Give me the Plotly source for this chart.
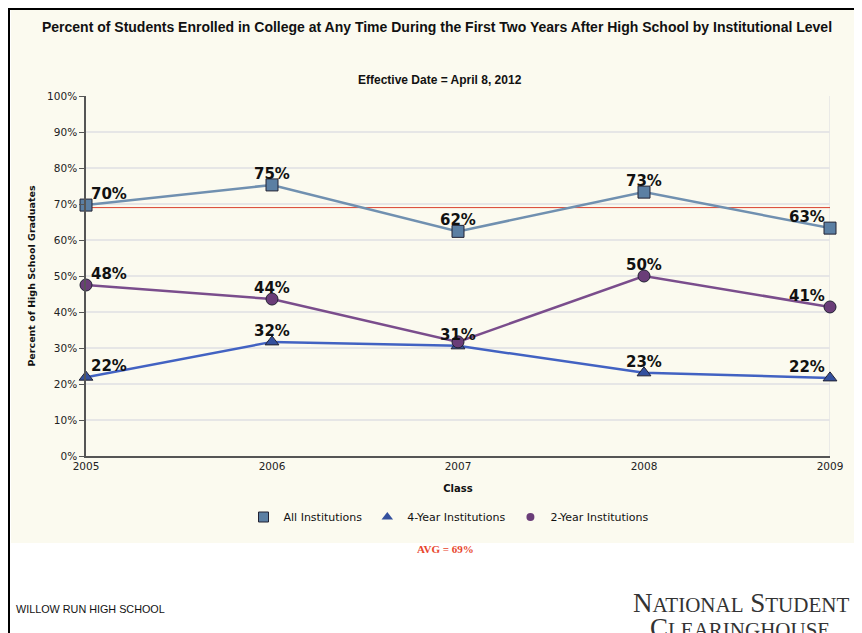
"""Enrollment by institutional level, Willow Run High School."""

import plotly.graph_objects as go

years = [2005, 2006, 2007, 2008, 2009]
all_inst = [69.7, 75.3, 62.4, 73.3, 63.3]
four_year = [21.9, 31.7, 30.6, 23.1, 21.7]
two_year = [47.5, 43.6, 31.7, 50.0, 41.4]
all_labels = ["70%", "75%", "62%", "73%", "63%"]
four_labels = ["22%", "32%", "31%", "23%", "22%"]
two_labels = ["48%", "44%", "", "50%", "41%"]
avg_value = 69

# the page body has an 8px margin, so work in shifted pixel coordinates
OFF = 8
W, H = 862 - OFF, 633 - OFF
L, R, T, B = 86 - OFF, 830 - OFF, 96 - OFF, 456 - OFF  # plot area in pixels


def px_x(p):
    return (p - OFF - L) / (R - L)


def px_y(p):
    return (B - (p - OFF)) / (B - T)


CREAM = "#FBFAEF"
label_font = dict(family="DejaVu Sans", size=15, color="#111111", weight="bold")

series = [
    ("All Institutions", all_inst, all_labels, "#7090B0", "square", "#5B7FA3"),
    ("4-Year Institutions", four_year, four_labels, "#4262C2", "triangle-up", "#34509E"),
    ("2-Year Institutions", two_year, two_labels, "#7A4D8C", "circle", "#6A3D78"),
]

fig = go.Figure()

fig.add_trace(
    go.Scatter(
        x=[years[0], years[-1]],
        y=[avg_value, avg_value],
        mode="lines",
        line=dict(color="#D9412E", width=1),
        showlegend=False,
        hoverinfo="skip",
    )
)

annotations = []
for name, vals, labels, line_c, sym, fill_c in series:
    fig.add_trace(
        go.Scatter(
            x=years,
            y=vals,
            mode="lines+markers",
            line=dict(color=line_c, width=2.5),
            marker=dict(symbol=sym, size=12, color=fill_c, line=dict(color="#222233", width=1)),
            cliponaxis=False,
            showlegend=False,
            name=name,
        )
    )
    for i, (yr, v, lab) in enumerate(zip(years, vals, labels)):
        if not lab:
            continue
        if i == 0:
            anchor, xs = "left", 3
        elif i == len(years) - 1:
            anchor, xs = "right", -3
        else:
            anchor, xs = "center", 0
        annotations.append(
            dict(x=yr, y=v, xref="x", yref="y", text=lab, showarrow=False,
                 xanchor=anchor, yanchor="middle", xshift=xs, yshift=11, font=label_font)
        )

# legend entries show the symbol only
for name, vals, labels, line_c, sym, fill_c in series:
    fig.add_trace(
        go.Scatter(
            x=[None],
            y=[None],
            mode="markers",
            name=name,
            marker=dict(symbol=sym, size=10 if sym != "circle" else 8, color=fill_c,
                        line=dict(color="#222233", width=1 if sym == "square" else 0)),
        )
    )

shapes = [
    # cream panel
    dict(type="rect", xref="paper", yref="paper", x0=px_x(11), x1=px_x(870),
         y0=px_y(543), y1=px_y(10), fillcolor=CREAM, line=dict(width=0), layer="below"),
    # black frame
    dict(type="line", xref="paper", yref="paper", x0=px_x(7), x1=px_x(870),
         y0=px_y(8.5), y1=px_y(8.5), line=dict(color="#000000", width=3)),
    dict(type="line", xref="paper", yref="paper", x0=px_x(8.5), x1=px_x(8.5),
         y0=px_y(7), y1=px_y(640), line=dict(color="#000000", width=3)),
    # right border of plot area
    dict(type="line", xref="x", yref="paper", x0=years[-1], x1=years[-1], y0=0, y1=1,
         line=dict(color="#E4E4E4", width=1.5), layer="below"),
]


def note(text, x, y, size, family="Liberation Sans", color="#111111", xanchor="center"):
    return dict(text=text, x=px_x(x), y=px_y(y), xref="paper", yref="paper",
                xanchor=xanchor, yanchor="middle", showarrow=False,
                font=dict(family=family, size=size, color=color))


annotations += [
    note("<b>Effective Date = April 8, 2012</b>", 440, 80, 12),
    note("<b>AVG = 69%</b>", 445, 549, 11, family="Liberation Serif", color="#E8452C"),
    note("WILLOW RUN HIGH SCHOOL", 14, 609, 10.8, xanchor="left"),
    note("N<span style='font-size:21px'>ATIONAL</span> S<span style='font-size:21px'>TUDENT</span>",
         851, 603, 27, family="Liberation Serif", color="#333333", xanchor="right"),
    note("C<span style='font-size:21px'>LEARINGHOUSE</span>",
         832, 628, 27, family="Liberation Serif", color="#333333", xanchor="right"),
]

axis_font = dict(family="DejaVu Sans", size=10.5, color="#222222")

fig.update_layout(
    width=W,
    height=H,
    margin=dict(l=L, r=W - R, t=T, b=H - B),
    paper_bgcolor="#FFFFFF",
    plot_bgcolor="rgba(0,0,0,0)",
    title=dict(
        text="<b>Percent of Students Enrolled in College at Any Time During the First Two Years After High School by Institutional Level</b>",
        x=(437 - OFF) / W, xanchor="center", y=1 - (27 - OFF) / H, yanchor="middle",
        font=dict(family="Liberation Sans", size=14, color="#111111"),
    ),
    xaxis=dict(
        range=[years[0], years[-1]],
        tickvals=years,
        ticktext=[str(y) for y in years],
        showgrid=False,
        zeroline=False,
        showline=True,
        linecolor="#555555",
        linewidth=1.5,
        ticks="",
        tickfont=axis_font,
        title=dict(text="<b>Class</b>", font=dict(family="DejaVu Sans", size=10, color="#111111"),
                   standoff=14),
    ),
    yaxis=dict(
        range=[0, 100],
        dtick=10,
        ticksuffix="%",
        showgrid=True,
        gridcolor="#E6E6E6",
        gridwidth=1.5,
        zeroline=False,
        showline=True,
        linecolor="#555555",
        linewidth=1.5,
        ticks="outside",
        ticklen=5,
        tickcolor="#555555",
        tickfont=axis_font,
        title=dict(text="<b>Percent of High School Graduates</b>",
                   font=dict(family="DejaVu Sans", size=9.5, color="#111111"), standoff=10),
    ),
    legend=dict(
        orientation="h",
        x=px_x(449), xanchor="center",
        y=px_y(517), yanchor="middle",
        bgcolor="rgba(0,0,0,0)",
        font=dict(family="DejaVu Sans", size=11, color="#111111"),
    ),
    shapes=shapes,
    annotations=annotations,
)

fig.write_html("out.html")
